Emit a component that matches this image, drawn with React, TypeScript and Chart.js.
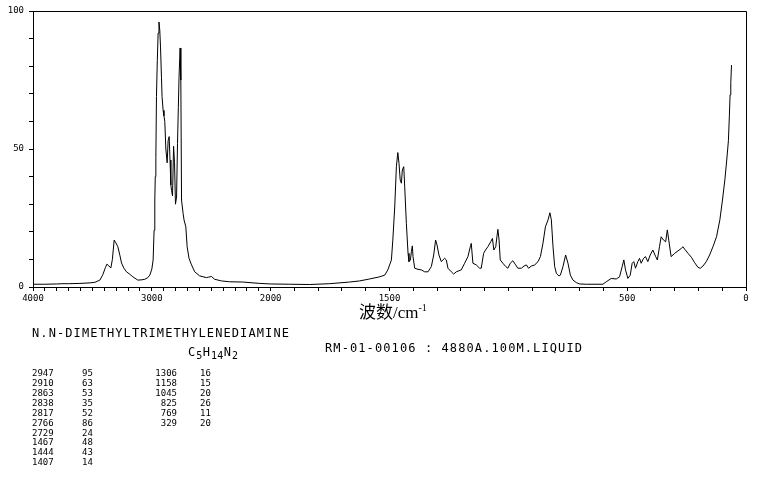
import React, { useEffect, useRef } from "react";
import { Chart, registerables } from "chart.js";

Chart.register(...registerables);

// Raman spectrum (wavenumber in cm-1, relative intensity)
const wavenumbers = [
  4000, 3900, 3800, 3748, 3700, 3605, 3520, 3479, 3437, 3412, 3391, 3378, 3361, 3345, 3332, 3317,
  3303, 3286, 3269, 3255, 3235, 3213, 3185, 3160, 3118, 3084, 3059, 3034, 3017, 3000, 2989, 2981,
  2975, 2971, 2966, 2961, 2954, 2947, 2940, 2933, 2927, 2919, 2914, 2905, 2898, 2891, 2882, 2871,
  2863, 2854, 2847, 2840, 2834, 2826, 2817, 2809, 2801, 2792, 2784, 2777, 2771, 2762, 2756, 2750,
  2737, 2729, 2714, 2703, 2687, 2666, 2639, 2597, 2540, 2521, 2498, 2471, 2414, 2345, 2235, 2092,
  2000, 1920, 1836, 1752, 1668, 1626, 1584, 1541, 1520, 1507, 1492, 1486, 1478, 1471, 1465, 1460,
  1455, 1450, 1446, 1440, 1436, 1429, 1422, 1418, 1412, 1408, 1404, 1401, 1394, 1380, 1366, 1352,
  1338, 1324, 1314, 1306, 1300, 1292, 1282, 1268, 1261, 1254, 1240, 1230, 1219, 1198, 1184, 1170,
  1160, 1156, 1149, 1135, 1121, 1114, 1104, 1096, 1086, 1074, 1067, 1061, 1053, 1048, 1044, 1039,
  1034, 1023, 1011, 1002, 992, 981, 969, 960, 945, 934, 924, 915, 903, 889, 875, 865,
  854, 844, 833, 825, 819, 812, 805, 798, 787, 781, 770, 759, 749, 739, 728, 714,
  700, 672, 602, 588, 567, 546, 532, 521, 514, 507, 497, 487, 479, 472, 465, 455,
  448, 441, 431, 423, 413, 403, 392, 380, 373, 364, 357, 347, 338, 331, 325, 315,
  300, 286, 272, 265, 258, 244, 230, 216, 202, 192, 181, 167, 153, 139, 124, 110,
  99, 89, 81, 74, 70, 67, 64, 61,
];
const intensities = [
  1.0, 1.0, 1.1, 1.2, 1.2, 1.3, 1.5, 1.7, 2.5, 4.5, 7.0, 8.3, 7.6, 6.9, 10, 17,
  16, 14.6, 11.5, 8.7, 6.8, 5.5, 4.6, 3.7, 2.5, 2.6, 2.8, 3.4, 4.3, 6.5, 9.8, 20.6,
  31.5, 40, 47, 69, 82, 92, 96, 93, 87, 76, 69, 64, 62, 60, 50, 45,
  53, 54.5, 46, 37, 35, 33, 51, 45, 30, 32.6, 52, 65, 76, 86.6, 75, 31.5,
  26.7, 24.3, 21.8, 14.6, 10.4, 8, 5.5, 4, 3.4, 3.6, 3.8, 2.8, 2.2, 1.9, 1.8, 1.3,
  1.1, 1.0, 0.9, 1.2, 1.8, 2.2, 2.9, 3.7, 4.3, 6.2, 9.8, 17, 29, 43.6, 48.7, 44.8,
  38.8, 37.6, 42.4, 43.6, 36.3, 23, 12.2, 9.2, 9.8, 12.8, 14.9, 11, 6.8, 6.4, 6.2, 5.5,
  5.5, 7.4, 11.6, 17, 15.2, 11.6, 9.2, 10.4, 9.8, 6.8, 5.5, 4.7, 5.5, 6.2, 8.6, 11,
  14.6, 15.8, 8.6, 8, 6.8, 6.8, 12.2, 13.4, 14.6, 16.4, 17.6, 13.4, 14.6, 18.2, 20.9, 17,
  9.8, 8.6, 7.4, 6.8, 8.6, 9.5, 8, 6.8, 6.8, 7.6, 8, 6.8, 7.6, 8, 9.2, 11,
  16, 21.8, 24.3, 26.9, 24.3, 14.6, 7.4, 5, 4, 4.3, 7.4, 11.6, 8.6, 4.3, 2.5, 1.6,
  1.1, 1.0, 1.0, 1.9, 3.1, 2.9, 3.7, 7.4, 9.8, 6.2, 3.1, 4.3, 8.6, 9.2, 6.8, 9.2,
  10.4, 8.6, 10.4, 11, 9.2, 11.6, 13.4, 11, 9.8, 14.6, 18.2, 17, 16.4, 20.7, 17, 11,
  12.2, 13.1, 14, 14.6, 13.7, 12.2, 10.8, 8.8, 7.1, 6.8, 7.6, 9.2, 11.6, 14.6, 18.2, 24.3,
  31.5, 38.8, 46, 53, 62, 69.6, 74, 80.4,
];

const xTickLabels = [4000, 3000, 2000, 1500, 500, 0];
const yTickLabels = [0, 50, 100];
const xTickStep = 100;
const yTickStep = 10;

const peakWnLeft = ["2947", "2910", "2863", "2838", "2817", "2766", "2729", "1467", "1444", "1407"];
const peakIntLeft = ["95", "63", "53", "35", "52", "86", "24", "48", "43", "14"];
const peakWnRight = ["1306", "1158", "1045", "825", "769", "329"];
const peakIntRight = ["16", "15", "20", "26", "11", "20"];

const compoundName = "N.N-DIMETHYLTRIMETHYLENEDIAMINE";
const sampleInfo = "RM-01-00106 : 4880A.100M.LIQUID";

// SDBS style axis: the scale above 2000 cm-1 is compressed by a factor of 2
const toAxis = (w: number) => (w > 2000 ? 2000 + (w - 2000) / 2 : w);
const fromAxis = (u: number) => (u > 2000 ? 2000 + (u - 2000) * 2 : u);

const framePlugin = {
  id: "frame",
  afterDraw(chart: any) {
    const { ctx, chartArea: a } = chart;
    ctx.save();
    ctx.strokeStyle = "#000";
    ctx.lineWidth = 1;
    ctx.beginPath();
    ctx.moveTo(Math.round(a.left) + 0.5, Math.round(a.top) + 0.5);
    ctx.lineTo(Math.round(a.right) + 0.5, Math.round(a.top) + 0.5);
    ctx.lineTo(Math.round(a.right) + 0.5, Math.round(a.bottom) + 0.5);
    ctx.stroke();
    ctx.restore();
  },
};

const tickFont = { family: "'DejaVu Sans Mono', monospace", size: 9 };
const textFont = "'DejaVu Sans Mono', monospace";

export default function App() {
  const canvasRef = useRef<HTMLCanvasElement | null>(null);

  useEffect(() => {
    if (!canvasRef.current) return;
    const xTicks: number[] = [];
    for (let w = 4000; w >= 0; w -= xTickStep) xTicks.push(w);
    const yTicks: number[] = [];
    for (let v = 0; v <= 100; v += yTickStep) yTicks.push(v);

    const chart = new Chart(canvasRef.current, {
      type: "line",
      data: {
        datasets: [
          {
            data: wavenumbers.map((w, i) => ({ x: toAxis(w), y: intensities[i] })),
            borderColor: "#000",
            borderWidth: 1,
            pointRadius: 0,
            tension: 0,
            fill: false,
          },
        ],
      },
      options: {
        animation: false,
        responsive: false,
        events: [],
        layout: { padding: { left: 0, top: 11, right: 15, bottom: 13 } },
        plugins: {
          legend: { display: false },
          tooltip: { enabled: false },
          title: { display: false },
        },
        scales: {
          x: {
            type: "linear",
            reverse: true,
            min: 0,
            max: 3000,
            afterBuildTicks: (s: any) => {
              s.ticks = xTicks.map((w) => ({ value: toAxis(w) }));
            },
            afterFit: (s: any) => {
              s.height = 30;
            },
            ticks: {
              autoSkip: false,
              maxRotation: 0,
              minRotation: 0,
              padding: 2,
              color: "#000",
              font: tickFont,
              callback: (v: any) => {
                const w = Math.round(fromAxis(Number(v)));
                return xTickLabels.includes(w) ? String(w) : "";
              },
            },
            grid: {
              display: true,
              drawOnChartArea: false,
              drawTicks: true,
              tickLength: 4,
              color: "#000",
              tickColor: "#000",
              lineWidth: 1,
            },
            border: { display: true, color: "#000", width: 1 },
          },
          y: {
            type: "linear",
            min: 0,
            max: 100,
            afterBuildTicks: (s: any) => {
              s.ticks = yTicks.map((v) => ({ value: v }));
            },
            afterFit: (s: any) => {
              s.width = 33;
            },
            ticks: {
              autoSkip: false,
              padding: 5,
              color: "#000",
              font: tickFont,
              callback: (v: any) => (yTickLabels.includes(Number(v)) ? String(v) : ""),
            },
            grid: {
              display: true,
              drawOnChartArea: false,
              drawTicks: true,
              tickLength: 4,
              color: "#000",
              tickColor: "#000",
              lineWidth: 1,
            },
            border: { display: true, color: "#000", width: 1 },
          },
        },
      } as any,
      plugins: [framePlugin],
    });
    return () => chart.destroy();
  }, []);

  const abs = (left: number, top: number, extra: any = {}) => ({
    position: "absolute" as const,
    left,
    top,
    whiteSpace: "pre" as const,
    ...extra,
  });

  const bigText = { fontFamily: textFont, fontSize: 12, lineHeight: "12px", letterSpacing: "1.1px", color: "#000" };
  const smallText = { fontFamily: textFont, fontSize: 9, lineHeight: "9px", color: "#000" };
  const rowH = 9.92;

  return (
    <div style={{ position: "absolute", left: 0, top: 0, width: 761, height: 477, background: "#fff", overflow: "hidden" }}>
      <canvas ref={canvasRef} width={761} height={330} style={{ position: "absolute", left: 0, top: 0, width: 761, height: 330 }} />
      <div style={abs(359, 301.5, { fontSize: 17, lineHeight: "17px", color: "#000" })}>
        <span style={{ fontFamily: "'Noto Sans CJK SC', sans-serif" }}>波数</span>
        <span style={{ fontFamily: "'Liberation Serif', 'DejaVu Serif', serif" }}>/cm</span>
        <span style={{ fontFamily: "'Liberation Serif', 'DejaVu Serif', serif", fontSize: 10, position: "relative", top: -7 }}>-1</span>
      </div>
      <div style={abs(32, 326.6, bigText)}>{compoundName}</div>
      <div style={abs(188, 345.6, bigText)}>
        C<span style={{ fontSize: 10, letterSpacing: "0.3px", position: "relative", top: 3 }}>5</span>H
        <span style={{ fontSize: 10, letterSpacing: "0.3px", position: "relative", top: 3 }}>14</span>N
        <span style={{ fontSize: 10, letterSpacing: "0.3px", position: "relative", top: 3 }}>2</span>
      </div>
      <div style={abs(325, 342.2, bigText)}>{sampleInfo}</div>
      {peakWnLeft.map((w, i) => (
        <React.Fragment key={"l" + i}>
          <div style={abs(32, 369 + i * rowH, smallText)}>{w}</div>
          <div style={abs(82, 369 + i * rowH, smallText)}>{peakIntLeft[i]}</div>
        </React.Fragment>
      ))}
      {peakWnRight.map((w, i) => (
        <React.Fragment key={"r" + i}>
          <div style={abs(0, 369 + i * rowH, { ...smallText, width: 177, textAlign: "right" })}>{w}</div>
          <div style={abs(200, 369 + i * rowH, smallText)}>{peakIntRight[i]}</div>
        </React.Fragment>
      ))}
    </div>
  );
}
